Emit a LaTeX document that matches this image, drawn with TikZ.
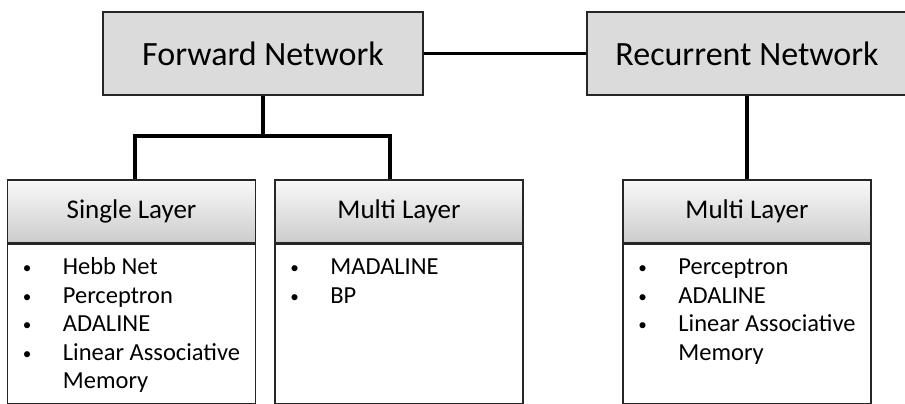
\documentclass[tikz,border=0pt]{standalone}
\usepackage{fontspec}
\setmainfont{Carlito}
\usetikzlibrary{positioning, calc}

\tikzset{
  netbox/.style={draw=black!85, line width=1.6pt, fill=gray!28,
    minimum width=320pt, minimum height=83pt, font=\fontsize{34}{40}\selectfont},
  layerhead/.style={draw=black!85, line width=1.6pt, top color=gray!5, bottom color=gray!40,
    minimum width=248pt, minimum height=63pt, font=\fontsize{27}{32}\selectfont},
  layerbody/.style={draw=black!85, line width=1.6pt, fill=white,
    minimum width=248pt, minimum height=159pt, anchor=north},
  itemlist/.style={anchor=north west, inner sep=0pt, align=left,
    font=\fontsize{24.5}{28.5}\selectfont},
  link/.style={line width=3.2pt},
}
\newcommand{\bul}{\strut\makebox[40pt][l]{\raisebox{1pt}{\scalebox{0.7}{\textbullet}}}}

\begin{document}
\begin{tikzpicture}[x=1pt, y=-1pt]
  \useasboundingbox (0,0) rectangle (905,404);

  % top level
  \node[netbox] (fwd) at (263,53.5) {Forward Network};
  \node[netbox] (rec) at (747,53.5) {Recurrent Network};

  % layer headers
  \node[layerhead] (single) at (131.5,211.5) {Single Layer};
  \node[layerhead] (multi)  at (399,211.5) {Multi Layer};
  \node[layerhead] (rmulti) at (747,211.5) {Multi Layer};

  % layer bodies
  \node[layerbody] (singlebody) at (single.south) {};
  \node[layerbody] (multibody)  at (multi.south) {};
  \node[layerbody] (rmultibody) at (rmulti.south) {};

  % item lists
  \node[itemlist] (singlelist) at ($(singlebody.north west)+(16,11)$)
    {\bul Hebb Net\\ \bul Perceptron\\ \bul ADALINE\\ \bul Linear Associative\\ \hspace*{40pt}Memory};
  \node[itemlist] (multilist) at ($(multibody.north west)+(16,11)$)
    {\bul MADALINE\\ \bul BP};
  \node[itemlist] (rmultilist) at ($(rmultibody.north west)+(16,11)$)
    {\bul Perceptron\\ \bul ADALINE\\ \bul Linear Associative\\ \hspace*{40pt}Memory};

  % connectors
  \coordinate (split) at (263,136);
  \draw[link] (fwd.east) -- (rec.west);
  \draw[link] (fwd.south) -- (split);
  \draw[link] (split) -| ([xshift=3.5pt]single.north);
  \draw[link] (split) -| ([xshift=-9pt]multi.north);
  \draw[link] (rec.south) -- (rmulti.north);
\end{tikzpicture}
\end{document}
